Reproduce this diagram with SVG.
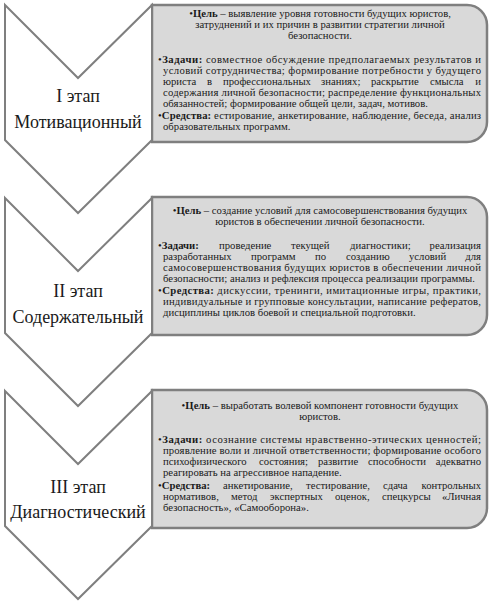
<svg xmlns="http://www.w3.org/2000/svg" width="491" height="603" viewBox="0 0 491 603">
<style>
.chev{fill:#ffffff;stroke:#7f7f7f;stroke-width:2;stroke-linejoin:miter}
.box{fill:#d9d9d9;stroke:#7f7f7f;stroke-width:2.5}
.big{font-family:"Liberation Serif","Times New Roman",serif;font-size:18px;fill:#1a1a1a;text-anchor:middle}
.t{font-family:"Liberation Serif","Times New Roman",serif;font-size:10.7px;fill:#1a1a1a}
.c{text-anchor:middle}
.e{text-anchor:end}
.b{font-weight:bold}
</style>
<rect width="491" height="603" fill="#ffffff"/>
<g id="box1">
<path class="box" d="M152,5 H467 A20,20 0 0 1 487,25 V122 A20,20 0 0 1 467,142 H152 Z"/>
<text class="t c" x="320" y="17">•<tspan class="b">Цель</tspan> – выявление уровня готовности будущих юристов,</text>
<text class="t c" x="320" y="28">затруднений и их причин в развитии стратегии личной</text>
<text class="t c" x="320" y="39">безопасности.</text>
<text class="t" x="158" y="63" textLength="323" lengthAdjust="spacing">•<tspan class="b">Задачи:</tspan> совместное обсуждение предполагаемых результатов и</text>
<text class="t" x="163" y="74" textLength="318" lengthAdjust="spacing">условий сотрудничества;  формирование потребности у будущего</text>
<text class="t" y="85"><tspan x="163">юриста</tspan><tspan x="207">в</tspan><tspan x="223">профессиональных</tspan><tspan x="321">знаниях;</tspan><tspan x="371">раскрытие</tspan><tspan x="430">смысла</tspan></text>
<text class="t e" x="481" y="85">и</text>
<text class="t" x="163" y="96" textLength="318" lengthAdjust="spacing">содержания личной безопасности; распределение функциональных</text>
<text class="t" x="163" y="107">обязанностей; формирование общей цели, задач, мотивов.</text>
<text class="t" x="158" y="119" textLength="323" lengthAdjust="spacing">•<tspan class="b">Средства:</tspan> естирование, анкетирование, наблюдение, беседа, анализ</text>
<text class="t" x="163" y="130">образовательных программ.</text>
</g>
<g id="box2">
<path class="box" d="M152,197 H467 A20,20 0 0 1 487,217 V315 A20,20 0 0 1 467,335 H152 Z"/>
<text class="t c" x="320" y="214">•<tspan class="b">Цель</tspan> – создание условий для самосовершенствования будущих</text>
<text class="t c" x="320" y="225">юристов в обеспечении личной безопасности.</text>
<text class="t" y="249"><tspan x="158">•</tspan><tspan class="b">Задачи:</tspan><tspan x="219">проведение</tspan><tspan x="291">текущей</tspan><tspan x="350">диагностики;</tspan></text>
<text class="t e" x="481" y="249">реализация</text>
<text class="t" y="260"><tspan x="163">разработанных</tspan><tspan x="251">программ</tspan><tspan x="315">по</tspan><tspan x="346">созданию</tspan><tspan x="409">условий</tspan></text>
<text class="t e" x="481" y="260">для</text>
<text class="t" x="163" y="271" textLength="318" lengthAdjust="spacing">самосовершенствования будущих юристов в обеспечении личной</text>
<text class="t" x="163" y="282">безопасности; анализ и рефлексия процесса реализации программы.</text>
<text class="t" x="158" y="294" textLength="323" lengthAdjust="spacing">•<tspan class="b">Средства:</tspan> дискуссии, тренинги, имитационные игры, практики,</text>
<text class="t" x="163" y="305" textLength="318" lengthAdjust="spacing">индивидуальные и групповые консультации, написание рефератов,</text>
<text class="t" x="163" y="316">дисциплины циклов боевой и специальной подготовки.</text>
</g>
<g id="box3">
<path class="box" d="M152,390 H467 A20,20 0 0 1 487,410 V508 A20,20 0 0 1 467,528 H152 Z"/>
<text class="t c" x="320" y="409">•<tspan class="b">Цель</tspan> – выработать волевой компонент готовности будущих</text>
<text class="t c" x="320" y="420">юристов.</text>
<text class="t" x="158" y="443" textLength="323" lengthAdjust="spacing">•<tspan class="b">Задачи:</tspan> осознание системы нравственно-этических ценностей;</text>
<text class="t" x="163" y="454" textLength="318" lengthAdjust="spacing">проявление воли и личной ответственности; формирование особого</text>
<text class="t" y="465"><tspan x="163">психофизического</tspan><tspan x="259">состояния;</tspan><tspan x="318">развитие</tspan><tspan x="368">способности</tspan></text>
<text class="t e" x="481" y="465">адекватно</text>
<text class="t" x="163" y="476">реагировать на агрессивное нападение.</text>
<text class="t" y="489"><tspan x="158">•</tspan><tspan class="b">Средства:</tspan><tspan x="223">анкетирование,</tspan><tspan x="306">тестирование,</tspan><tspan x="383">сдача</tspan></text>
<text class="t e" x="481" y="489">контрольных</text>
<text class="t" y="500"><tspan x="163">нормативов,</tspan><tspan x="231">метод</tspan><tspan x="270">экспертных</tspan><tspan x="335">оценок,</tspan><tspan x="382">спецкурсы</tspan></text>
<text class="t e" x="481" y="500">«Личная</text>
<text class="t" x="163" y="511">безопасность», «Самооборона».</text>
</g>
<g id="stage1">
<polygon class="chev" points="5,5 78,78 152,5 152,140 78,213 5,140"/>
<text class="big" x="78" y="102">I этап</text>
<text class="big" x="78" y="128">Мотивационный</text>
</g>
<g id="stage2">
<polygon class="chev" points="5,198 78,271 152,198 152,333 78,406 5,333"/>
<text class="big" x="78" y="297">II этап</text>
<text class="big" x="78" y="323">Содержательный</text>
</g>
<g id="stage3">
<polygon class="chev" points="5,391 78,464 152,391 152,526 78,599 5,526"/>
<text class="big" x="78" y="493">III этап</text>
<text class="big" x="78" y="518">Диагностический</text>
</g>
<g id="connectors"></g>
</svg>
